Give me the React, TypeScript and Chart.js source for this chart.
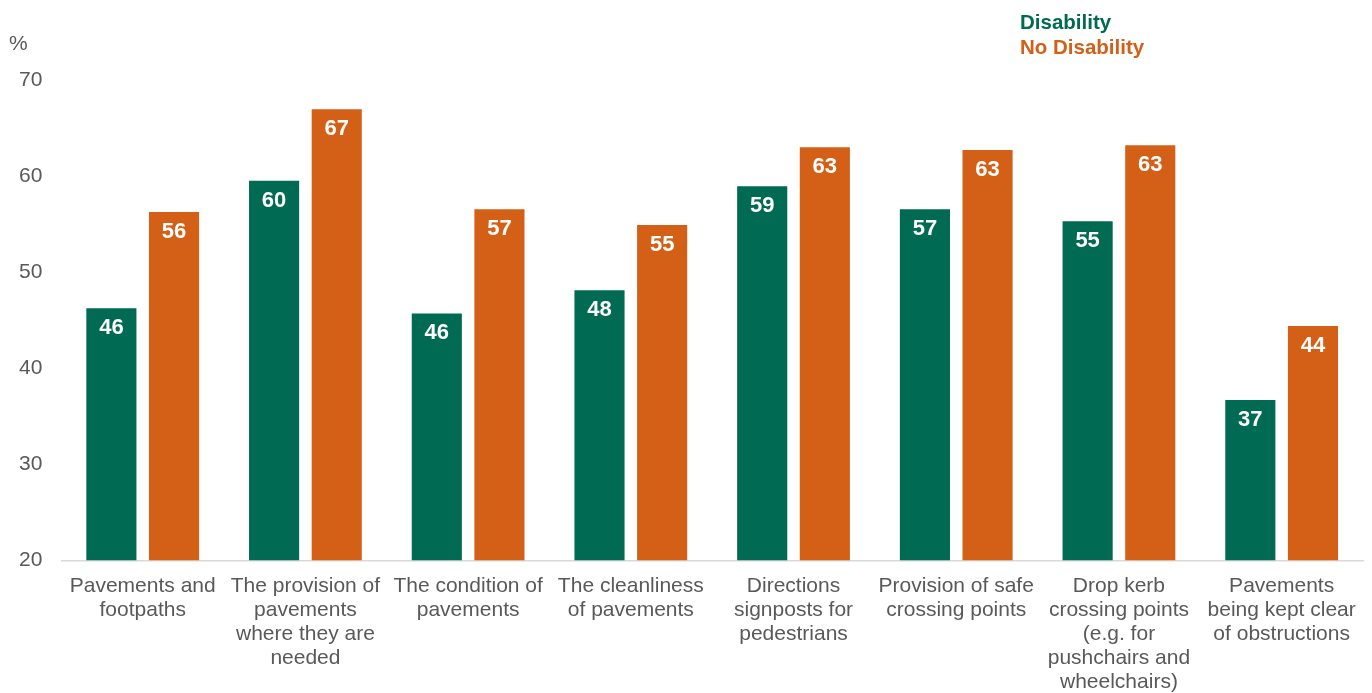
import React, { useEffect, useRef } from "react";
import { Chart, registerables } from "chart.js";

Chart.register(...registerables);

const categories: string[][] = [
  ["Pavements and", "footpaths"],
  ["The provision of", "pavements", "where they are", "needed"],
  ["The condition of", "pavements"],
  ["The cleanliness", "of pavements"],
  ["Directions", "signposts for", "pedestrians"],
  ["Provision of safe", "crossing points"],
  ["Drop kerb", "crossing points", "(e.g. for", "pushchairs and", "wheelchairs)"],
  ["Pavements", "being kept clear", "of obstructions"],
];

const disability = [46.25, 59.5, 45.7, 48.1, 58.95, 56.55, 55.3, 36.7];
const noDisability = [56.25, 66.95, 56.55, 54.9, 63.0, 62.7, 63.2, 44.4];

const yTicks = { min: 20, max: 70, step: 10 };

const GREEN = "#006A52";
const ORANGE = "#D45F16";
const GREY = "#595959";
const FONT = "'Liberation Sans', Arial, sans-serif";

const overlayPlugin = {
  id: "overlay",
  afterDatasetsDraw(chart: any) {
    const ctx = chart.ctx;
    ctx.save();
    chart.data.datasets.forEach((ds: any, di: number) => {
      const meta = chart.getDatasetMeta(di);
      meta.data.forEach((bar: any, i: number) => {
        const v = Math.round(ds.data[i]);
        ctx.fillStyle = "#ffffff";
        ctx.font = `bold 22px ${FONT}`;
        ctx.textAlign = "center";
        ctx.textBaseline = "middle";
        ctx.fillText(String(v), bar.x, bar.y + 20);
      });
    });
    ctx.font = `bold 20.5px ${FONT}`;
    ctx.textAlign = "left";
    ctx.textBaseline = "middle";
    chart.data.datasets.forEach((ds: any, di: number) => {
      ctx.fillStyle = ds.backgroundColor;
      ctx.fillText(ds.label, 1020, 23 + di * 25);
    });
    ctx.font = `21px ${FONT}`;
    ctx.fillStyle = GREY;
    ctx.fillText("%", 9, 44);
    ctx.restore();
  },
};

export default function App() {
  const ref = useRef<HTMLCanvasElement>(null);
  useEffect(() => {
    document.body.style.margin = "0";
    const chart = new Chart(ref.current!, {
      type: "bar",
      data: {
        labels: categories,
        datasets: [
          {
            label: "Disability",
            data: disability,
            backgroundColor: GREEN,
            categoryPercentage: 0.77,
            barPercentage: 0.8,
          },
          {
            label: "No Disability",
            data: noDisability,
            backgroundColor: ORANGE,
            categoryPercentage: 0.77,
            barPercentage: 0.8,
          },
        ],
      },
      options: {
        animation: false,
        responsive: false,
        layout: { padding: { top: 80, left: 0, right: 9, bottom: -15 } },
        plugins: { legend: { display: false }, tooltip: { enabled: false } },
        scales: {
          x: {
            grid: { display: false, drawTicks: false },
            border: { display: true, color: "#D9D9D9", width: 1.5 },
            afterFit: (scale: any) => {
              scale.paddingLeft = 0;
              scale.paddingRight = 0;
            },
            ticks: {
              color: GREY,
              font: { family: FONT, size: 21, lineHeight: 1.14 },
              maxRotation: 0,
              autoSkip: false,
              padding: 14,
            },
          },
          y: {
            min: yTicks.min,
            max: yTicks.max,
            grid: { display: false, drawTicks: false },
            border: { display: false },
            ticks: {
              stepSize: yTicks.step,
              color: GREY,
              font: { family: FONT, size: 21 },
              padding: 19,
            },
          },
        },
      },
      plugins: [overlayPlugin],
    });
    return () => chart.destroy();
  }, []);
  return <canvas ref={ref} width={1372} height={693} style={{ display: "block" }} />;
}
